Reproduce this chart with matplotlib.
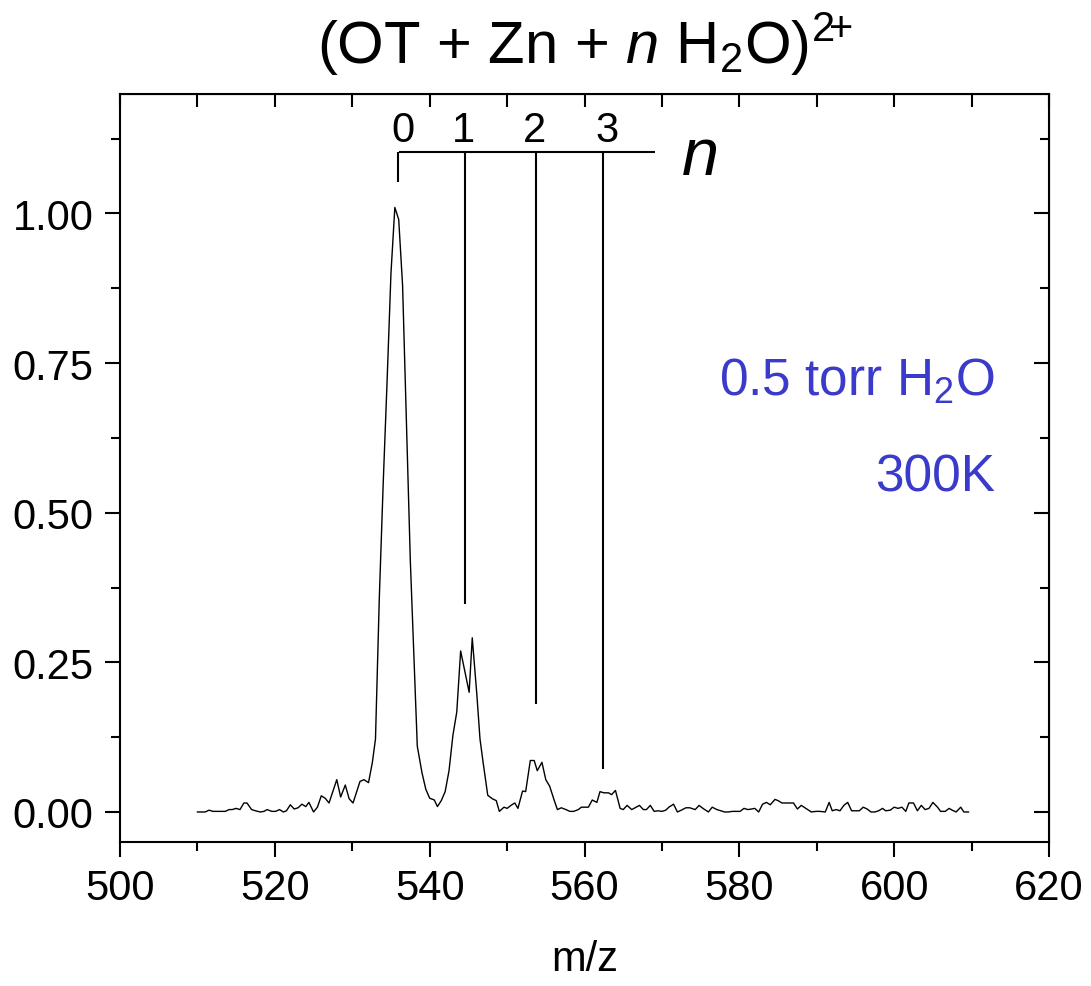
import numpy as np
import matplotlib
matplotlib.use('Agg')
import matplotlib.pyplot as plt
from matplotlib.ticker import MultipleLocator

plt.rcParams['font.family'] = ['Liberation Sans', 'DejaVu Sans']
plt.rcParams['mathtext.fontset'] = 'custom'
plt.rcParams['mathtext.rm'] = 'Liberation Sans'
plt.rcParams['mathtext.it'] = 'Liberation Sans:italic'

# spectrum
mz = [510.0, 510.5, 511.0, 511.5, 512.0, 512.5, 513.0, 513.6, 514.1, 514.5,
      515.0, 515.5, 516.0, 516.4, 517.0, 517.5, 518.1, 518.6, 519.0, 519.6,
      520.1, 520.6, 521.1, 521.5, 522.0, 522.5, 523.0, 523.5, 524.0, 524.4,
      525.0, 525.5, 526.0, 526.5, 527.0, 528.0, 528.5, 529.1, 529.6, 530.1,
      531.0, 531.5, 532.1, 532.6, 533.0, 533.5, 534.0, 534.5, 535.0, 535.5,
      536.0, 536.5, 537.5, 538.4, 539.0, 539.5, 540.0, 540.6, 541.0, 541.5,
      542.0, 542.5, 543.0, 543.5, 544.0, 545.1, 545.5, 546.1, 546.5, 546.9,
      547.5, 548.1, 548.6, 549.0, 549.6, 550.0, 550.5, 551.0, 551.4, 552.0,
      552.4, 553.0, 553.5, 553.9, 554.5, 555.0, 555.5, 556.1, 556.5, 557.0,
      557.6, 558.1, 558.6, 559.2, 559.6, 560.5, 561.0, 561.6, 562.0, 562.5,
      563.1, 563.5, 564.0, 564.6, 565.0, 565.5, 566.1, 567.1, 567.6, 568.0,
      568.5, 569.0, 569.5, 570.0, 570.5, 570.9, 571.5, 572.0, 572.5, 573.1,
      573.6, 574.3, 574.8, 575.3, 576.0, 576.5, 577.1, 577.6, 578.1, 578.6,
      579.1, 579.7, 580.1, 580.6, 581.1, 581.6, 582.0, 582.5, 583.0, 583.5,
      584.0, 584.6, 585.0, 585.5, 587.0, 587.5, 588.0, 588.6, 589.3, 589.9,
      590.4, 591.1, 591.6, 592.0, 592.5, 593.0, 593.5, 594.0, 594.5, 595.5,
      596.0, 596.5, 597.0, 597.5, 598.0, 598.5, 598.9, 599.5, 600.0, 600.5,
      601.0, 601.5, 601.9, 602.5, 603.0, 603.5, 604.0, 604.5, 605.0, 605.6,
      606.0, 606.6, 607.1, 607.5, 608.0, 608.6, 609.0, 609.6]
intensity = [0.0, 0.0, 0.0, 0.003, 0.001, 0.001, 0.001, 0.001, 0.004, 0.004,
             0.006, 0.004, 0.015, 0.015, 0.004, 0.002, 0.0, 0.001, 0.004, 0.001,
             0.001, 0.004, 0.0, 0.002, 0.012, 0.005, 0.007, 0.013, 0.009, 0.016,
             0.0, 0.008, 0.027, 0.023, 0.015, 0.054, 0.025, 0.045, 0.022, 0.015,
             0.051, 0.054, 0.049, 0.083, 0.122, 0.36, 0.55, 0.72, 0.90, 1.01,
             0.99, 0.88, 0.42, 0.11, 0.066, 0.038, 0.023, 0.02, 0.009, 0.019,
             0.034, 0.069, 0.128, 0.167, 0.269, 0.20, 0.291, 0.195, 0.122, 0.083,
             0.028, 0.022, 0.019, 0.001, 0.008, 0.006, 0.011, 0.015, 0.006, 0.035,
             0.034, 0.086, 0.086, 0.069, 0.083, 0.054, 0.043, 0.019, 0.004, 0.007,
             0.004, 0.001, 0.001, 0.004, 0.008, 0.008, 0.02, 0.016, 0.034, 0.032,
             0.032, 0.029, 0.036, 0.006, 0.004, 0.011, 0.004, 0.011, 0.004, 0.004,
             0.011, 0.001, 0.002, 0.001, 0.003, 0.008, 0.013, 0.0, 0.003, 0.007,
             0.007, 0.004, 0.011, 0.006, 0.0, 0.008, 0.004, 0.002, 0.0, 0.0,
             0.001, 0.001, 0.001, 0.006, 0.004, 0.005, 0.006, 0.0, 0.013, 0.016,
             0.012, 0.021, 0.019, 0.015, 0.015, 0.005, 0.011, 0.006, 0.0, 0.001,
             0.001, 0.0, 0.016, 0.002, 0.004, 0.002, 0.011, 0.016, 0.002, 0.002,
             0.008, 0.005, 0.0, 0.0, 0.002, 0.006, 0.002, 0.003, 0.008, 0.006,
             0.008, 0.001, 0.015, 0.015, 0.002, 0.011, 0.004, 0.006, 0.016, 0.008,
             0.001, 0.001, 0.006, 0.003, 0.0, 0.008, 0.0, 0.0]

# water adduct markers
n_labels = ['0', '1', '2', '3']
n_pos = [535.9, 544.6, 553.7, 562.4]
n_bottom = [1.052, 0.348, 0.18, 0.072]
bar_y = 1.102
bar_end = 569.1

fig = plt.figure(figsize=(10.91, 9.87), dpi=100)
ax = fig.add_axes([0.110, 0.146, 0.8515, 0.758])

ax.plot(mz, intensity, color='black', lw=1.0)

ax.hlines(bar_y, n_pos[0] + 0.2, bar_end, color='black', lw=1.5)
ax.vlines(n_pos, n_bottom, bar_y, color='black', lw=1.5)
label_x = [536.6, 544.3, 553.5, 562.9]
for lx, lab in zip(label_x, n_labels):
    ax.text(lx, 1.106, lab, fontsize=30, ha='center', va='bottom')
ax.text(575.0, 1.095, 'n', fontsize=48, style='italic', ha='center', va='center')

ax.text(613.0, 0.72, r'0.5 torr H$_{\mathrm{2}}$O', fontsize=37, color='#3a3acb',
        ha='right', va='center')
ax.text(613.0, 0.56, '300K', fontsize=37, color='#3a3acb', ha='right', va='center')

ax.set_xlim(500, 620)
ax.set_ylim(-0.05, 1.2)
ax.xaxis.set_major_locator(MultipleLocator(20))
ax.xaxis.set_minor_locator(MultipleLocator(10))
ax.yaxis.set_minor_locator(MultipleLocator(0.125))
ax.yaxis.set_major_formatter(plt.FormatStrFormatter('%.2f'))
ax.set_yticks([0, 0.25, 0.5, 0.75, 1.0])

for s in ax.spines.values():
    s.set_linewidth(1.5)
ax.tick_params(which='major', direction='out', length=11, width=1.5,
               labelsize=30, pad=8)
ax.tick_params(which='minor', direction='out', length=6.5, width=1.5)

top = ax.secondary_xaxis('top')
top.xaxis.set_major_locator(MultipleLocator(20))
top.xaxis.set_minor_locator(MultipleLocator(10))
top.tick_params(which='both', direction='in', length=9, width=1.5, labeltop=False)
right = ax.secondary_yaxis('right')
right.yaxis.set_major_locator(MultipleLocator(0.25))
right.yaxis.set_minor_locator(MultipleLocator(0.125))
right.tick_params(which='major', direction='in', length=11, width=1.5, labelright=False)
right.tick_params(which='minor', direction='in', length=6.5, width=1.5)

ax.set_xlabel('m/z', fontsize=30, labelpad=22)
ax.set_title(r'(OT + Zn + $\mathit{n}$ H$_{\mathrm{2}}$O)$^{\mathrm{2}\!{+}}$',
             fontsize=43, pad=22)

fig.savefig('out.png', dpi=100)
